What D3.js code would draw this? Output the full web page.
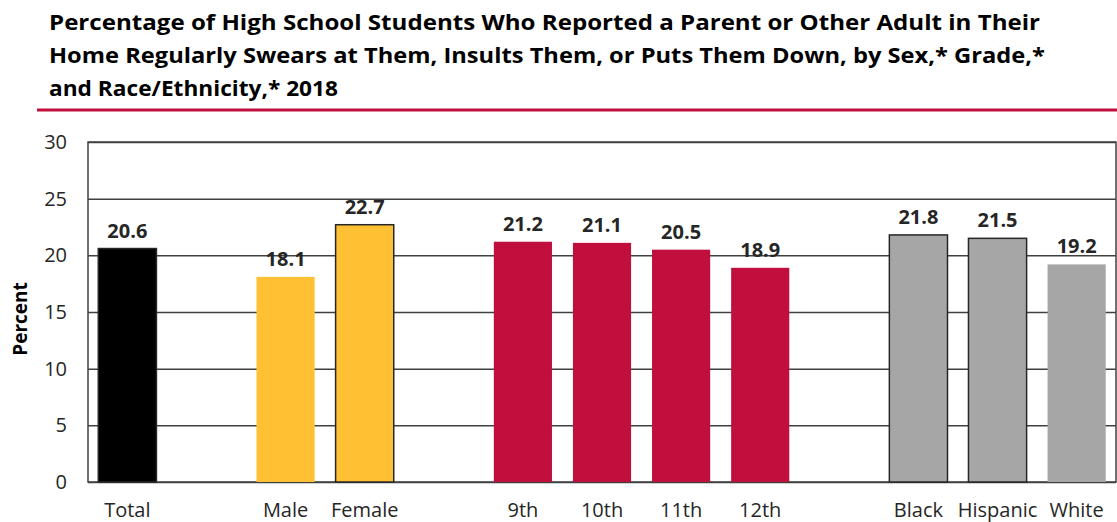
<!DOCTYPE html>
<html>
<head>
<meta charset="utf-8">
<script src="https://cdn.jsdelivr.net/npm/d3@7"></script>
<style>
  body { margin: 0; background: #fff; }
  svg { display: block; font-family: "Open Sans", sans-serif; }
</style>
</head>
<body>
<div id="chart"></div>
<script>
// data
var titleLines = [
  "Percentage of High School Students Who Reported a Parent or Other Adult in Their",
  "Home Regularly Swears at Them, Insults Them, or Puts Them Down, by Sex,* Grade,*",
  "and Race/Ethnicity,* 2018"
];
var categories = ["Total", "Male", "Female", "9th", "10th", "11th", "12th", "Black", "Hispanic", "White"];
var groups = ["Total", "Sex", "Sex", "Grade", "Grade", "Grade", "Grade", "Race", "Race", "Race"];
var values = [20.6, 18.1, 22.7, 21.2, 21.1, 20.5, 18.9, 21.8, 21.5, 19.2];
var yTicks = [0, 5, 10, 15, 20, 25, 30];

// styles
var groupColor = { Total: "#000000", Sex: "#FFC133", Grade: "#C00F3C", Race: "#A6A6A6" };
var outlined = ["Total", "Female", "Black", "Hispanic"];
var titleWidths = [991, 996, 289];

var width = 1117, height = 522;
var margin = {top: 142, right: 1, bottom: 40, left: 88},
    plot_w = width - margin.left - margin.right,
    plot_h = height - margin.top - margin.bottom;

var svg = d3.select("#chart").append("svg")
    .attr("width", width)
    .attr("height", height);

// title, each line stretched to the width it has in the picture
svg.append("g").attr("class", "title")
  .selectAll("text")
    .data(titleLines)
    .enter().append("text")
    .attr("x", 49)
    .attr("y", function(d, i) { return 30 + i * 33; })
    .attr("font-weight", "bold")
    .attr("font-size", 21)
    .attr("fill", "#000")
    .attr("textLength", function(d, i) { return titleWidths[i]; })
    .attr("lengthAdjust", "spacingAndGlyphs")
    .text(function(d) { return d; });

svg.append("line")
    .attr("x1", 37).attr("x2", width)
    .attr("y1", 110).attr("y2", 110)
    .attr("stroke", "#C00F3C")
    .attr("stroke-width", 3);

// slots: a blank slot between each group
var slots = [];
categories.forEach(function(c, i) {
  if (i > 0 && groups[i] !== groups[i - 1]) slots.push("gap" + i);
  slots.push(c);
});

var x = d3.scaleBand()
    .domain(slots)
    .range([0, plot_w])
    .paddingInner(0.265)
    .paddingOuter(0.13);

var y = d3.scaleLinear()
    .domain([0, 30])
    .range([plot_h, 0]);

var g = svg.append("g")
    .attr("transform", "translate(" + margin.left + "," + margin.top + ")");

// gridlines
g.append("g")
    .attr("class", "grid")
    .call(d3.axisLeft(y).tickValues(yTicks).tickSize(-plot_w).tickFormat(""))
    .call(function(s) {
      s.select(".domain").remove();
      s.selectAll("line").attr("stroke", "#404040").attr("stroke-width", 1.5);
    });

// y axis labels
g.append("g")
    .attr("class", "y axis")
    .call(d3.axisLeft(y).tickValues(yTicks).tickSize(0).tickPadding(21))
    .call(function(s) {
      s.select(".domain").remove();
      s.selectAll("text")
        .attr("font-family", "Open Sans, sans-serif")
        .attr("font-size", 20)
        .attr("fill", "#262626");
    });

// frame
g.append("rect")
    .attr("width", plot_w)
    .attr("height", plot_h)
    .attr("fill", "none")
    .attr("stroke", "#404040")
    .attr("stroke-width", 1.5);

var data = categories.map(function(c, i) {
  return {name: c, group: groups[i], value: values[i]};
});

// bars
g.selectAll(".bar")
    .data(data)
    .enter().append("rect")
    .attr("class", "bar")
    .attr("x", function(d) { return x(d.name); })
    .attr("width", x.bandwidth())
    .attr("y", function(d) { return y(d.value); })
    .attr("height", function(d) { return plot_h - y(d.value); })
    .attr("fill", function(d) { return groupColor[d.group]; })
    .attr("stroke", function(d) { return outlined.indexOf(d.name) >= 0 ? "#262626" : "none"; })
    .attr("stroke-width", 1.5);

// value labels
g.selectAll(".value")
    .data(data)
    .enter().append("text")
    .attr("class", "value")
    .attr("x", function(d) { return x(d.name) + x.bandwidth() / 2; })
    .attr("y", function(d) { return y(d.value) - 11; })
    .attr("text-anchor", "middle")
    .attr("font-weight", "bold")
    .attr("font-size", 20)
    .attr("fill", "#262626")
    .text(function(d) { return d.value.toFixed(1); });

// x axis labels
g.append("g")
    .attr("class", "x axis")
    .attr("transform", "translate(0," + plot_h + ")")
    .call(d3.axisBottom(x).tickValues(categories).tickSize(0).tickPadding(21))
    .call(function(s) {
      s.select(".domain").remove();
      s.selectAll("text")
        .attr("font-family", "Open Sans, sans-serif")
        .attr("font-size", 20)
        .attr("fill", "#262626");
    });

// y axis title
svg.append("text")
    .attr("transform", "translate(27," + (margin.top + plot_h / 2 + 7) + ") rotate(-90)")
    .attr("text-anchor", "middle")
    .attr("font-weight", "bold")
    .attr("font-size", 19)
    .attr("fill", "#000")
    .text("Percent");
</script>
</body>
</html>
